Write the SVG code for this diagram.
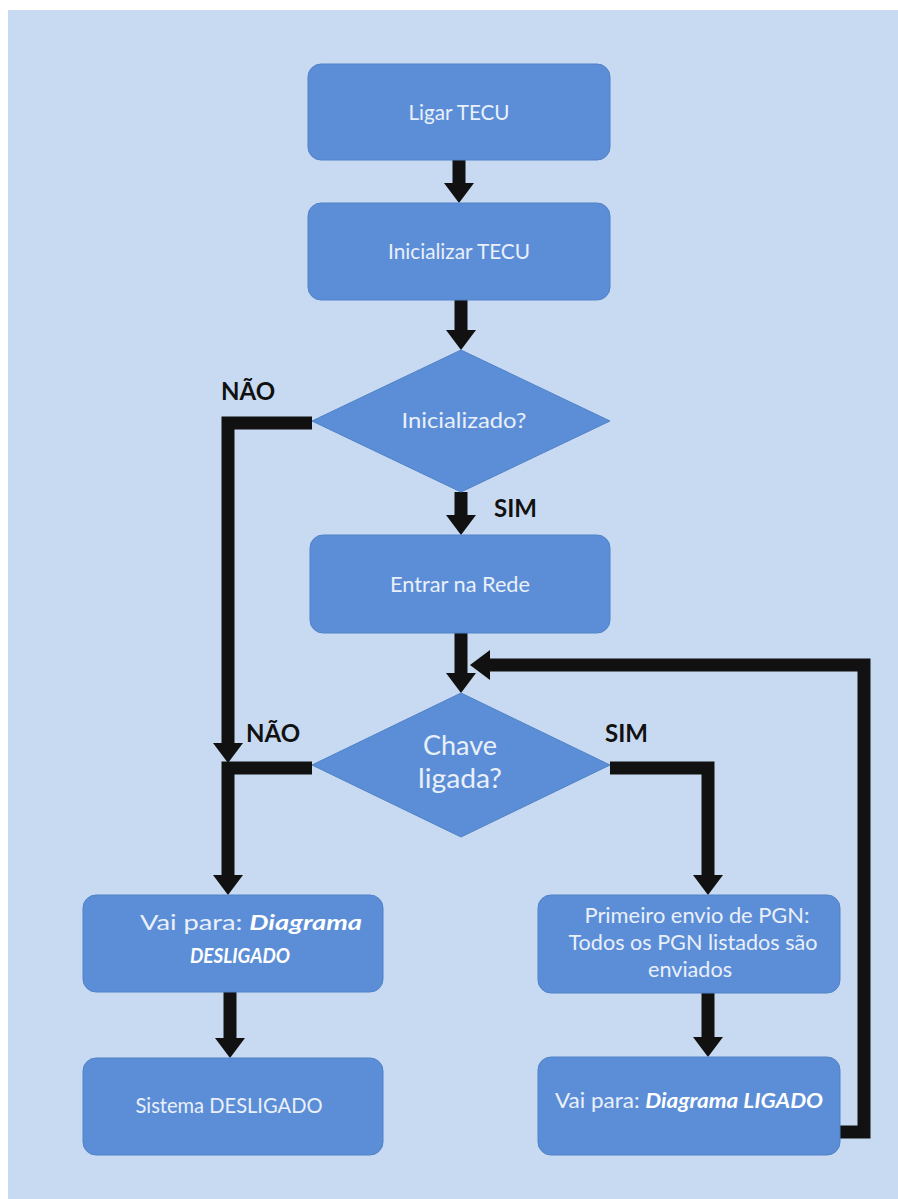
<svg xmlns="http://www.w3.org/2000/svg" width="898" height="1199" viewBox="0 0 898 1199">
  <defs>
    <marker id="head" markerUnits="userSpaceOnUse" markerWidth="20" markerHeight="30" refX="0" refY="15" orient="auto" overflow="visible">
      <path d="M0,0 L20,15 L0,30 Z" fill="#111"/>
    </marker>
    <style>
      .box { fill: #5c8ed7; stroke: #5082c8; stroke-width: 1; }
      .txt { font-family: Lato, "Liberation Sans", sans-serif; font-size: 20.5px; fill: #eaf0fa; text-anchor: middle; }
      .em { font-weight: bold; font-style: italic; fill: #ffffff; }
      .big { font-size: 27px; }
      .lbl { font-family: Lato, "Liberation Sans", sans-serif; font-weight: bold; font-size: 24px; fill: #111; }
      .con { fill: none; stroke: #111; stroke-width: 13; stroke-linejoin: miter; marker-end: url(#head); }
    </style>
  </defs>

  <!-- page background -->
  <rect x="0" y="0" width="898" height="1199" fill="#ffffff"/>
  <rect x="8" y="10" width="890" height="1189" fill="#c8daf1"/>

  <!-- connectors -->
  <g id="connectors">
    <path class="con" d="M459,160 V183"/>
    <path class="con" d="M461,300 V330"/>
    <path class="con" d="M461,492 V515"/>
    <path class="con" d="M461,633 V673"/>
    <path class="con" d="M312,423 H228 V743"/>
    <path class="con" d="M312,768 H228 V875"/>
    <path class="con" d="M610,768 H708 V875"/>
    <path class="con" d="M230,992 V1038"/>
    <path class="con" d="M708,993 V1037"/>
    <path class="con" d="M840,1132 H864 V665 H490"/>
  </g>

  <!-- branch labels -->
  <g id="labels">
    <text class="lbl" x="221" y="400">NÃO</text>
    <text class="lbl" x="494" y="517">SIM</text>
    <text class="lbl" x="246" y="742">NÃO</text>
    <text class="lbl" x="605" y="742">SIM</text>
  </g>

  <g id="ligar">
    <rect class="box" x="308" y="64" width="302" height="96" rx="13"/>
    <text class="txt" x="459" y="120" textLength="101" lengthAdjust="spacingAndGlyphs">Ligar TECU</text>
  </g>

  <g id="inicializar">
    <rect class="box" x="308" y="203" width="302" height="97" rx="13"/>
    <text class="txt" x="459" y="259" textLength="142" lengthAdjust="spacingAndGlyphs">Inicializar TECU</text>
  </g>

  <g id="inicializado">
    <polygon class="box" points="461,350 610,421 461,492 312,421"/>
    <text class="txt" x="464" y="428" textLength="125" lengthAdjust="spacingAndGlyphs">Inicializado?</text>
  </g>

  <g id="entrar">
    <rect class="box" x="310" y="535" width="300" height="98" rx="13"/>
    <text class="txt" x="460" y="592" textLength="140" lengthAdjust="spacingAndGlyphs">Entrar na Rede</text>
  </g>

  <g id="chave">
    <polygon class="box" points="461,693 610,765 461,837 312,765"/>
    <text class="txt big" x="460" y="755" textLength="74" lengthAdjust="spacingAndGlyphs">Chave</text>
    <text class="txt big" x="460" y="788" textLength="84" lengthAdjust="spacingAndGlyphs">ligada?</text>
  </g>

  <g id="desligado-diag">
    <rect class="box" x="83" y="895" width="300" height="97" rx="13"/>
    <text class="txt" x="251" y="930" textLength="222" lengthAdjust="spacingAndGlyphs">Vai para: <tspan class="em">Diagrama</tspan></text>
    <text class="txt em" x="240" y="963" textLength="100" lengthAdjust="spacingAndGlyphs">DESLIGADO</text>
  </g>

  <g id="sistema-desligado">
    <rect class="box" x="83" y="1058" width="300" height="97" rx="13"/>
    <text class="txt" x="229" y="1113" textLength="187" lengthAdjust="spacingAndGlyphs">Sistema DESLIGADO</text>
  </g>

  <g id="primeiro-envio">
    <rect class="box" x="538" y="895" width="302" height="98" rx="13"/>
    <text class="txt" x="697" y="923" textLength="225" lengthAdjust="spacingAndGlyphs">Primeiro envio de PGN:</text>
    <text class="txt" x="693" y="950" textLength="249" lengthAdjust="spacingAndGlyphs">Todos os PGN listados são</text>
    <text class="txt" x="690" y="977" textLength="84" lengthAdjust="spacingAndGlyphs">enviados</text>
  </g>

  <g id="ligado-diag">
    <rect class="box" x="538" y="1057" width="302" height="98" rx="13"/>
    <text class="txt" x="689" y="1108" textLength="268" lengthAdjust="spacingAndGlyphs">Vai para: <tspan class="em">Diagrama LIGADO</tspan></text>
  </g>
</svg>
